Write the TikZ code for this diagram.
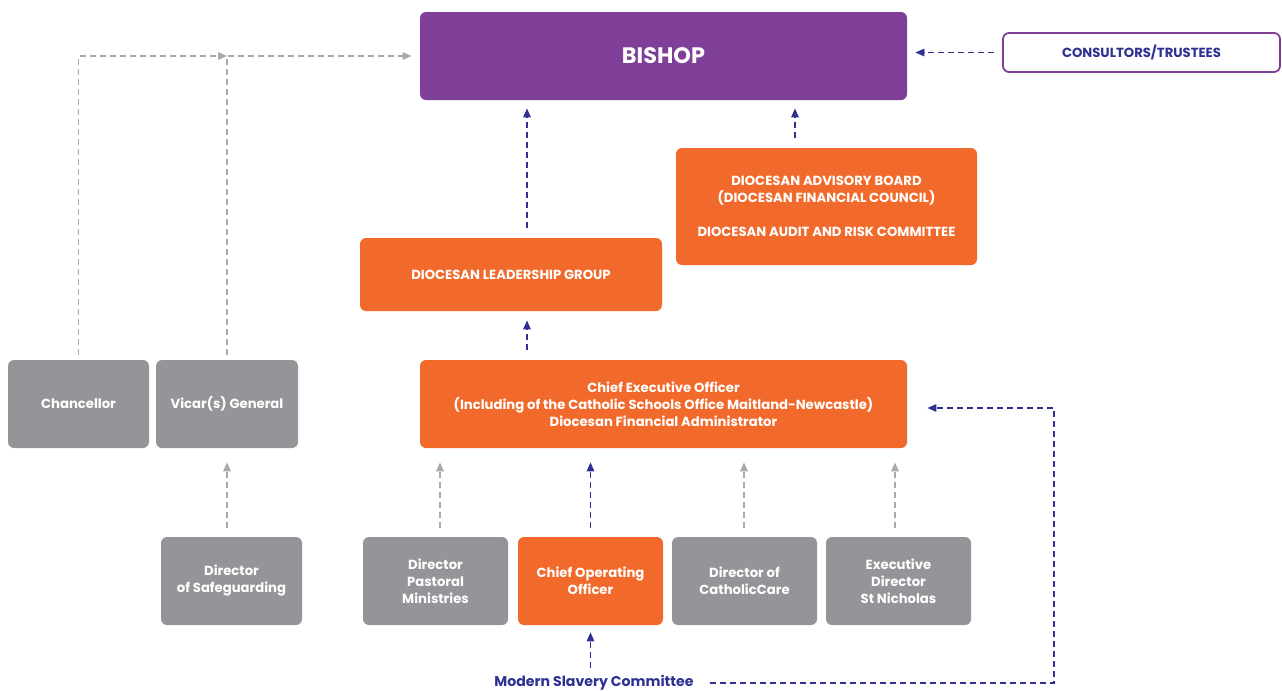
\documentclass[tikz,border=0pt]{standalone}
\usepackage{fontspec}
\setmainfont{Poppins}
\usetikzlibrary{arrows.meta}
\definecolor{bishoppurple}{HTML}{7F3F98}
\definecolor{boxorange}{HTML}{F26A2B}
\definecolor{boxgray}{HTML}{939598}
\definecolor{arrowgray}{HTML}{A7A9AC}
\definecolor{linkblue}{HTML}{2E3192}
\tikzset{
  box/.style={rounded corners=3pt, inner sep=0pt, text=white, align=center,
    font=\bfseries\fontsize{6.6}{8.5}\selectfont, minimum height=44pt},
  graybox/.style={box, fill=boxgray},
  orangebox/.style={box, fill=boxorange},
  link/.style={dash pattern=on 3pt off 2pt, line width=0.65pt,
    -{Triangle[length=4.5pt,width=3.8pt]}},
  grayarrow/.style={link, draw=arrowgray, arrowgray},
  bluearrow/.style={link, draw=linkblue, linkblue},
}
\begin{document}
\begin{tikzpicture}[x=0.5pt,y=-0.5pt]
\useasboundingbox (0,0) rectangle (1282,691);

% top row
\node[box, fill=bishoppurple, minimum width=243.5pt,
  font=\bfseries\fontsize{11.2}{13}\selectfont] (bishop) at (663.5,56) {BISHOP};
\node[box, fill=white, draw=bishoppurple, line width=0.9pt, text=linkblue,
  minimum width=138.5pt, minimum height=19.5pt] (consult) at (1141.5,52.5) {CONSULTORS/TRUSTEES};

% boards
\node[orangebox, minimum width=150.5pt, minimum height=58.5pt] (board) at (826.5,206.5)
  {DIOCESAN ADVISORY BOARD\\(DIOCESAN FINANCIAL COUNCIL)\\[8.5pt]DIOCESAN AUDIT AND RISK COMMITTEE};
\node[orangebox, minimum width=151pt, minimum height=36.5pt] (leader) at (511,274.5)
  {DIOCESAN LEADERSHIP GROUP};

% middle row
\node[orangebox, minimum width=243.5pt] (ceo) at (663.5,404)
  {Chief Executive Officer\\(Including of the Catholic Schools Office Maitland-Newcastle)\\Diocesan Financial Administrator};
\node[graybox, minimum width=70.5pt] (chancellor) at (78.5,404) {Chancellor};
\node[graybox, minimum width=71pt] (vicar) at (227,404) {Vicar(s) General};

% bottom row
\node[graybox, minimum width=70.5pt] (safe) at (231.5,581) {Director\\of Safeguarding};
\node[graybox, minimum width=72.5pt] (pastoral) at (435.5,581) {Director\\Pastoral\\Ministries};
\node[orangebox, minimum width=72.5pt] (coo) at (590.5,581) {Chief Operating\\Officer};
\node[graybox, minimum width=72.5pt] (care) at (744.5,581) {Director of\\CatholicCare};
\node[graybox, minimum width=72.5pt] (nicholas) at (898.5,581) {Executive\\Director\\St Nicholas};
\node[inner sep=0pt, text=linkblue, font=\bfseries\fontsize{7.05}{9}\selectfont] (slavery) at (594,683)
  {Modern Slavery Committee};

\coordinate (lx) at (527,0);
\coordinate (bx) at (795,0);
\coordinate (rx) at (1054,0);

% arrows
\draw[bluearrow, shorten <=4pt, shorten >=4pt] (consult.west) -- (bishop.east |- consult.west);
\draw[bluearrow, shorten <=5pt, shorten >=4pt] (board.north -| bx) -- (bishop.south -| bx);
\draw[bluearrow, shorten <=5pt, shorten >=4pt] (leader.north -| lx) -- (bishop.south -| lx);
\draw[bluearrow, shorten <=5pt, shorten >=4.5pt] (ceo.north -| lx) -- (leader.south -| lx);
\draw[grayarrow, shorten <=2.5pt] (chancellor.north) |- (vicar.north |- bishop.west);
\draw[grayarrow, shorten <=2.5pt, shorten >=4pt] (vicar.north) |- (bishop.west);
\draw[grayarrow, shorten <=4.5pt, shorten >=7pt] (safe.north -| vicar.north) -- (vicar.south);
\draw[grayarrow, shorten <=4.5pt, shorten >=7pt] (pastoral.north -| 440,0) -- (ceo.south -| 440,0);
\draw[bluearrow, shorten <=4.5pt, shorten >=7pt] (coo.north) -- (ceo.south -| coo.north);
\draw[grayarrow, shorten <=4.5pt, shorten >=7pt] (care.north -| 744,0) -- (ceo.south -| 744,0);
\draw[grayarrow, shorten <=4.5pt, shorten >=7pt] (nicholas.north -| 895,0) -- (ceo.south -| 895,0);
\draw[bluearrow, shorten <=3.5pt, shorten >=3.5pt] (slavery.north -| coo.south) -- (coo.south);
\draw[bluearrow, shorten <=8pt, shorten >=10pt] (slavery.east) -| (rx |- 0,408) -- (ceo.east |- 0,408);
\end{tikzpicture}
\end{document}
